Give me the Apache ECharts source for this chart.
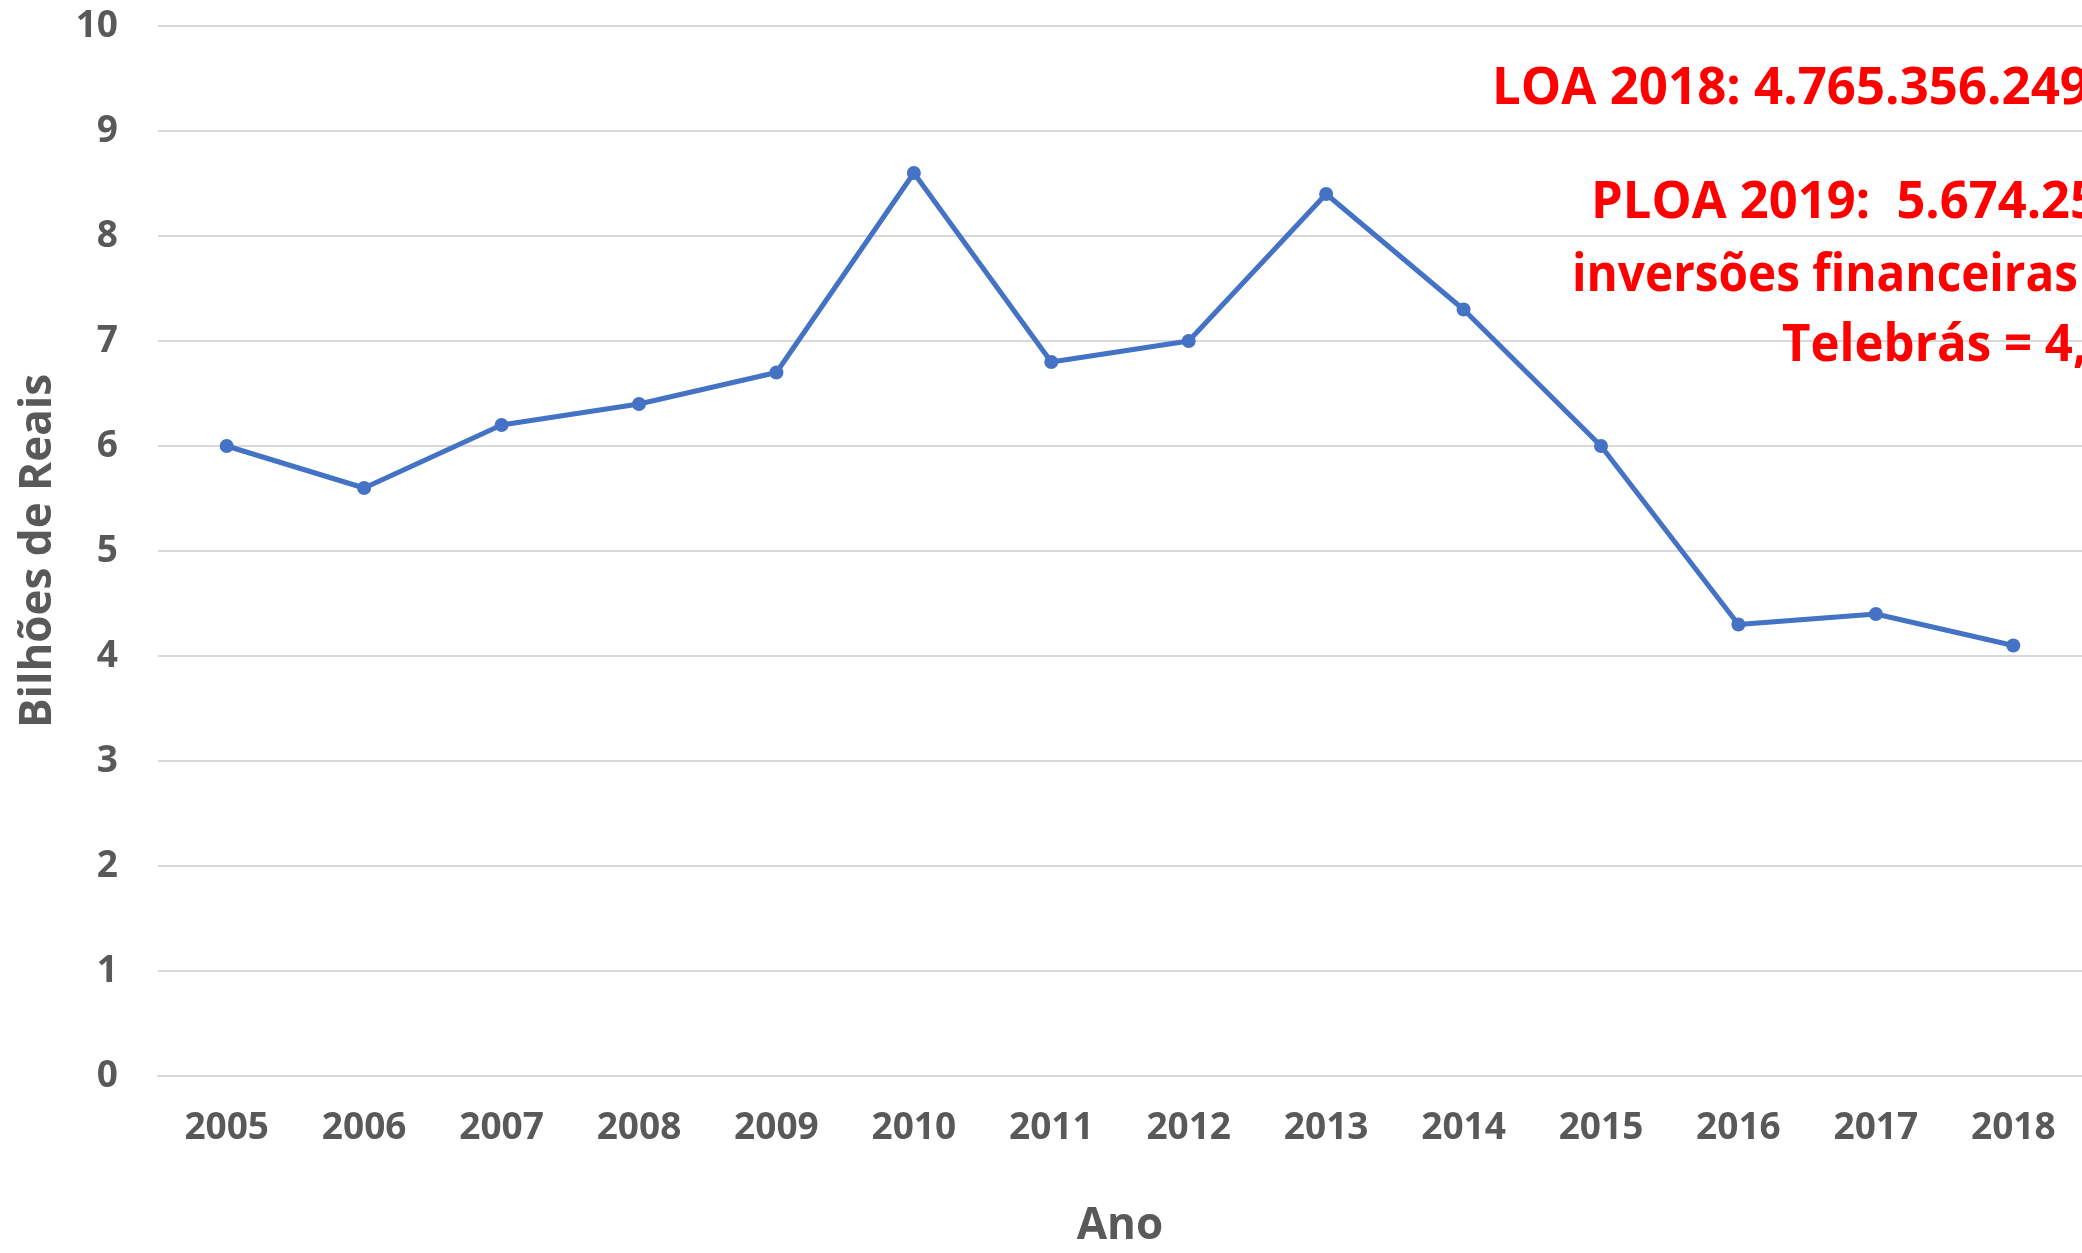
<!DOCTYPE html>
<html>
<head>
<meta charset="utf-8">
<script src="https://cdn.jsdelivr.net/npm/echarts@6/dist/echarts.min.js"></script>
<style>
  html, body { margin: 0; padding: 0; background: #ffffff; overflow: hidden; }
  #chart { width: 2082px; height: 1253px; }
</style>
</head>
<body>
<div id="chart"></div>
<script>
const anos = ['2005','2006','2007','2008','2009','2010','2011','2012','2013','2014','2015','2016','2017','2018'];
const valores = [6.0, 5.6, 6.2, 6.4, 6.7, 8.6, 6.8, 7.0, 8.4, 7.3, 6.0, 4.3, 4.4, 4.1];
const yTicks = [0, 1, 2, 3, 4, 5, 6, 7, 8, 9, 10];
const notas = ['LOA 2018: 4.765.356.249', 'PLOA 2019:  5.674.25', 'inversões financeiras', 'Telebrás = 4,'];

const FONT = '"Open Sans", "Noto Sans", sans-serif';
const GREY = '#595959';

// layout for the red notes: [left x, centre y, target width]
const notaPos = [[1492, 89, 597], [1591, 203, 508], [1572, 276, 506], [1782, 346, 305]];
const notaSize = 52;
const ctx = document.createElement('canvas').getContext('2d');
ctx.font = 'bold ' + notaSize + 'px "Open Sans"';

const graphics = notas.map((t, i) => {
  const w = ctx.measureText(t).width || 1;
  const s = notaPos[i][2] / w;
  return {
    type: 'text',
    x: notaPos[i][0],
    y: notaPos[i][1],
    scaleX: s,
    silent: true,
    z: 100,
    style: {
      text: t,
      fill: '#FF0000',
      fontSize: notaSize,
      fontWeight: 'bold',
      fontFamily: FONT,
      align: 'left',
      verticalAlign: 'middle'
    }
  };
});

const chart = echarts.init(document.getElementById('chart'), null, { renderer: 'canvas' });
chart.setOption({
  animation: false,
  backgroundColor: '#ffffff',
  grid: { left: 158, right: 0, top: 26, bottom: 171, containLabel: false },
  xAxis: {
    type: 'category',
    data: anos,
    boundaryGap: true,
    name: 'Ano',
    nameLocation: 'middle',
    nameGap: 128,
    nameTextStyle: { color: GREY, fontSize: 44, fontWeight: 'bold', fontFamily: FONT },
    axisLine: { show: true, lineStyle: { color: '#d9d9d9', width: 2 } },
    axisTick: { show: false },
    axisLabel: { color: GREY, fontSize: 37, fontWeight: 'bold', fontFamily: FONT, margin: 34 }
  },
  yAxis: {
    type: 'value',
    min: yTicks[0],
    max: yTicks[yTicks.length - 1],
    interval: 1,
    name: 'Bilhões de Reais',
    nameLocation: 'middle',
    nameGap: 98,
    nameRotate: 90,
    nameTextStyle: { color: GREY, fontSize: 44, fontWeight: 'bold', fontFamily: FONT },
    axisLine: { show: false },
    axisTick: { show: false },
    splitLine: { show: true, lineStyle: { color: '#d9d9d9', width: 2 } },
    axisLabel: { color: GREY, fontSize: 37, fontWeight: 'bold', fontFamily: FONT, margin: 40 }
  },
  series: [{
    type: 'line',
    data: valores,
    symbol: 'circle',
    symbolSize: 14,
    lineStyle: { color: '#4472C4', width: 5 },
    itemStyle: { color: '#4472C4' },
    z: 3
  }],
  graphic: graphics
});
</script>
</body>
</html>
